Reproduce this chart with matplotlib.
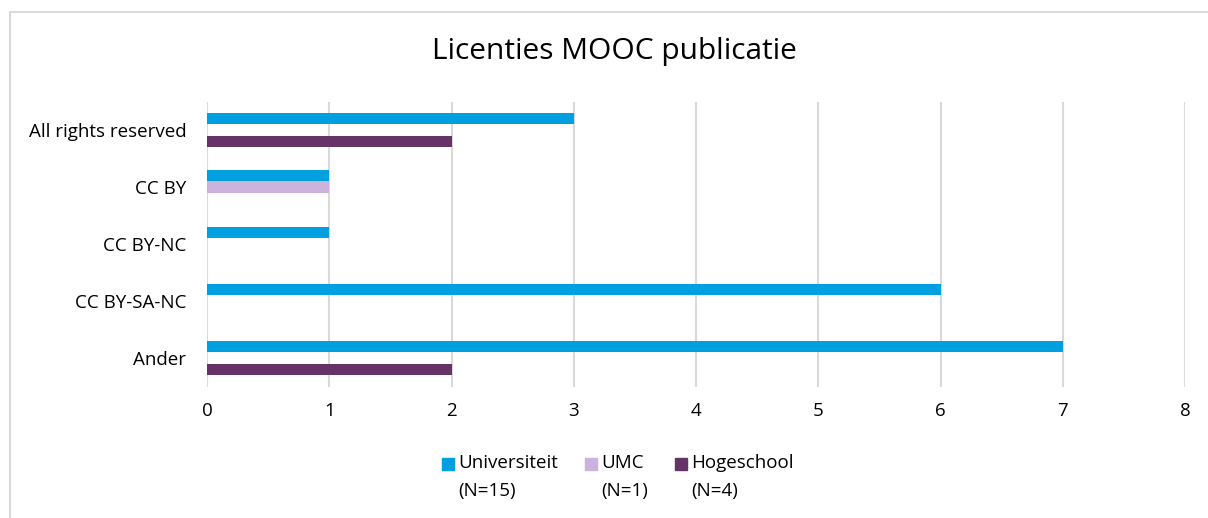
import matplotlib
matplotlib.use('Agg')
from matplotlib import pyplot as plt
from matplotlib.lines import Line2D
from matplotlib.patches import Rectangle
import numpy as np

categories = ['All rights reserved', 'CC BY', 'CC BY-NC', 'CC BY-SA-NC', 'Ander']
series_names = ['Universiteit', 'UMC', 'Hogeschool']
series_n = ['(N=15)', '(N=1)', '(N=4)']
universiteit = [3, 1, 1, 6, 7]
umc = [0, 1, 0, 0, 0]
hogeschool = [2, 0, 0, 0, 2]
x_ticks = [0, 1, 2, 3, 4, 5, 6, 7, 8]

colors = ['#00A0E0', '#CCB3DC', '#663366']

plt.rcParams['font.family'] = ['Open Sans', 'DejaVu Sans']

W, H = 1208, 518
fig = plt.figure(figsize=(W / 100, H / 100), dpi=100)
ax = fig.add_axes([207 / W, 1 - 386.5 / H, (1185 - 207) / W, (386.5 - 101.5) / H])

y = np.arange(len(categories))
h = 11.5 / 57
for i, vals in enumerate([universiteit, umc, hogeschool]):
    ax.barh(y + (i - 1) * h, vals, height=h, color=colors[i],
            label=series_names[i], zorder=3)

ax.set_ylim(len(categories) - 0.5, -0.5)
ax.set_xlim(0, 8)
ax.set_xticks(x_ticks)
ax.set_yticks(y)
ax.set_yticklabels(categories)
ax.tick_params(axis='both', length=0, labelsize=13.5, colors='#000000')
ax.tick_params(axis='x', pad=11)
ax.tick_params(axis='y', pad=15)
ax.grid(axis='x', color='#D9D9D9', linewidth=1.5, zorder=0)
for s in ax.spines.values():
    s.set_visible(False)

fig.text(614 / W, 1 - 52 / H, 'Licenties MOOC publicatie', ha='center',
         va='center', fontsize=21.5)

# legend, drawn by hand so the swatch sits on the first text line
sw_x = [442, 585, 675]
for i in range(len(series_names)):
    fig.add_artist(Rectangle((sw_x[i] / W, 1 - 470 / H), 12 / W, 12 / H,
                             transform=fig.transFigure, color=colors[i]))
    fig.text((sw_x[i] + 16) / W, 1 - 463 / H, series_names[i], ha='left',
             va='center', fontsize=13.5)
    fig.text((sw_x[i] + 16) / W, 1 - 491 / H, series_n[i], ha='left',
             va='center', fontsize=13.5)

# chart border
fig.add_artist(Line2D([10 / W, 10 / W, 1], [0, 1 - 12 / H, 1 - 12 / H],
                      transform=fig.transFigure, color='#D9D9D9', linewidth=1.5))

fig.savefig('out.png', dpi=100)
